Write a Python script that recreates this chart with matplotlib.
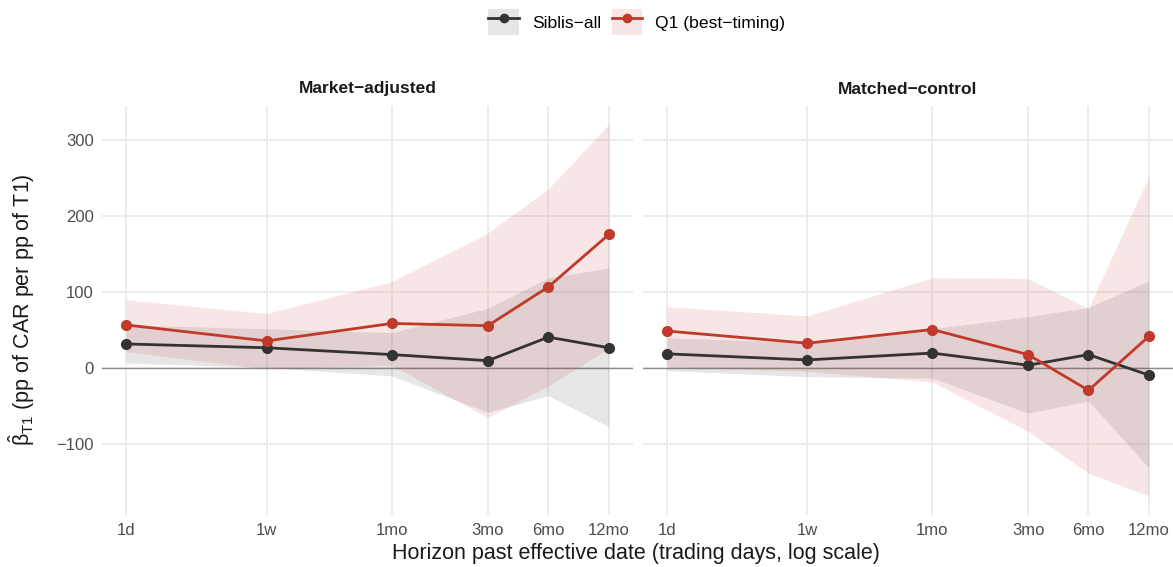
import numpy as np
import matplotlib
matplotlib.use("Agg")
import matplotlib.pyplot as plt
from matplotlib.lines import Line2D
from matplotlib.patches import Patch

plt.rcParams['font.family'] = ['Liberation Sans', 'DejaVu Sans']
plt.rcParams['mathtext.fontset'] = 'custom'
plt.rcParams['mathtext.rm'] = 'Liberation Sans'
plt.rcParams['mathtext.it'] = 'Liberation Sans:italic'

# horizons in trading days
horizon_days = [1, 5, 21, 63, 126, 252]
horizon_labels = ["1d", "1w", "1mo", "3mo", "6mo", "12mo"]
panels = ["Market\u2212adjusted", "Matched\u2212control"]

# Siblis-all
sib_est = {
    "Market\u2212adjusted": [32, 27, 18, 10, 41, 27],
    "Matched\u2212control": [19, 11, 20, 4, 18, -9],
}
sib_lo = {
    "Market\u2212adjusted": [7, 1, -10, -58, -36, -77],
    "Matched\u2212control": [-3, -11, -13, -59, -43, -131],
}
sib_hi = {
    "Market\u2212adjusted": [57, 52, 47, 79, 119, 132],
    "Matched\u2212control": [40, 34, 52, 68, 80, 115],
}

# Q1 (best-timing)
q1_est = {
    "Market\u2212adjusted": [57, 36, 59, 56, 107, 176],
    "Matched\u2212control": [49, 33, 51, 18, -29, 42],
}
q1_lo = {
    "Market\u2212adjusted": [22, -1, 4, -65, -23, 26],
    "Matched\u2212control": [2, -4, -18, -83, -138, -168],
}
q1_hi = {
    "Market\u2212adjusted": [90, 72, 114, 178, 236, 321],
    "Matched\u2212control": [81, 69, 119, 118, 79, 253],
}

col_sib = "#333333"
col_q1 = "#C0392B"
grid_col = "#EBEBEB"
txt_col = "#4D4D4D"

W, H = 1173, 567
fig = plt.figure(figsize=(W / 100, H / 100), dpi=100)

boxes = [(102, 633), (643, 1173)]
top_px, bot_px = 106, 515
xlim = (np.exp(-0.276), np.exp(5.806))
ylim = (-193, 345)

for i, (name, (x0, x1)) in enumerate(zip(panels, boxes)):
    ax = fig.add_axes([x0 / W, (H - bot_px) / H, (x1 - x0) / W, (bot_px - top_px) / H])
    ax.set_xscale("log")
    ax.set_xlim(*xlim)
    ax.set_ylim(*ylim)
    ax.set_xticks(horizon_days)
    ax.set_xticklabels(horizon_labels)
    ax.minorticks_off()
    ax.set_yticks([-100, 0, 100, 200, 300])
    ax.set_yticklabels(["\u2212100", "0", "100", "200", "300"])
    ax.grid(True, color=grid_col, linewidth=1.3)
    ax.set_axisbelow(True)
    for s in ax.spines.values():
        s.set_visible(False)
    ax.tick_params(length=0, labelsize=12, colors=txt_col, pad=6)
    if i == 1:
        ax.tick_params(labelleft=False)

    ax.axhline(0, color="#8C8C8C", linewidth=1.0, zorder=1)

    ax.fill_between(horizon_days, sib_lo[name], sib_hi[name], color=col_sib,
                    alpha=0.12, linewidth=0, zorder=2)
    ax.fill_between(horizon_days, q1_lo[name], q1_hi[name], color=col_q1,
                    alpha=0.12, linewidth=0, zorder=2)
    ax.plot(horizon_days, sib_est[name], color=col_sib, linewidth=2,
            marker="o", markersize=7, zorder=3)
    ax.plot(horizon_days, q1_est[name], color=col_q1, linewidth=2,
            marker="o", markersize=7, zorder=4)

    ax.set_title(name, fontsize=12.5, fontweight="bold", color="#1A1A1A", pad=9)

fig.text(636 / W, 1 - 553 / H, "Horizon past effective date (trading days, log scale)",
         fontsize=15.5, color="#1A1A1A", ha="center", va="center")
fig.text(22 / W, 1 - 310 / H, r"$\hat{\mathrm{\beta}}_{\mathrm{T1}}$ (pp of CAR per pp of T1)",
         fontsize=15.5, color="#1A1A1A", rotation=90, ha="center", va="center")

handles = [
    (Patch(facecolor=col_sib, alpha=0.12, edgecolor="none"),
     Line2D([], [], color=col_sib, linewidth=2, marker="o", markersize=6)),
    (Patch(facecolor=col_q1, alpha=0.12, edgecolor="none"),
     Line2D([], [], color=col_q1, linewidth=2, marker="o", markersize=6)),
]
fig.legend(handles, ["Siblis\u2212all", "Q1 (best\u2212timing)"], loc="center",
           bbox_to_anchor=(0.543, 1 - 22 / H), ncol=2, frameon=False, fontsize=12.6,
           handlelength=1.75, handleheight=1.9, columnspacing=0.6, handletextpad=0.75)

fig.savefig("out.png", dpi=100)
